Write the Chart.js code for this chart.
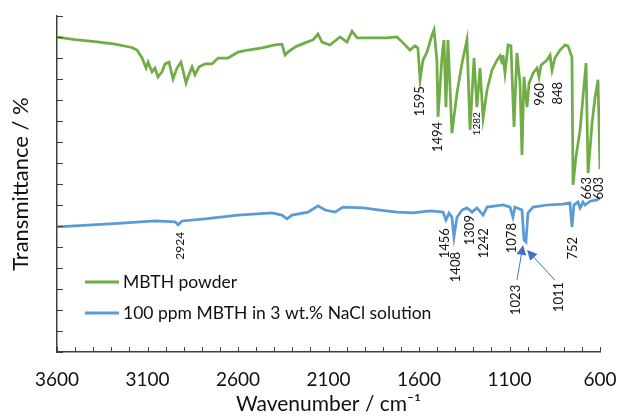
<!DOCTYPE html>
<html>
<head>
<meta charset="utf-8">
<script src="https://cdn.jsdelivr.net/npm/chart.js@4.4.0/dist/chart.umd.min.js"></script>
<style>
  html, body { margin: 0; padding: 0; background: #fff; }
</style>
</head>
<body>
<canvas id="chart" width="619" height="419"></canvas>
<script>
// MBTH powder spectrum (wavenumber, transmittance in arbitrary units)
const powderWn = [3600, 3500, 3390, 3280, 3186, 3158, 3130, 3108, 3097, 3075, 3059, 3042, 3020, 3003, 2981, 2959, 2937, 2915, 2887, 2876, 2854, 2838, 2815, 2782, 2744, 2710, 2655, 2600, 2545, 2467, 2396, 2357, 2340, 2324, 2285, 2230, 2186, 2158, 2136, 2092, 2036, 1998, 1970, 1942, 1887, 1832, 1777, 1722, 1688, 1650, 1622, 1606, 1594, 1578, 1556, 1528, 1517, 1501, 1495, 1473, 1462, 1451, 1440, 1418, 1390, 1362, 1335, 1318, 1296, 1280, 1263, 1246, 1224, 1197, 1169, 1152, 1141, 1136, 1125, 1108, 1092, 1075, 1059, 1042, 1031, 1020, 1003, 992, 970, 948, 937, 926, 893, 876, 865, 849, 821, 793, 777, 755, 749, 733, 710, 694, 677, 666, 644, 627, 611, 600];
const powderT = [75.0, 74.4, 73.9, 73.3, 72.5, 71.9, 70.0, 67.6, 69.0, 66.7, 67.6, 65.5, 66.7, 68.6, 69.0, 65.0, 67.6, 69.0, 64.0, 65.5, 67.9, 66.0, 67.9, 68.6, 68.6, 70.0, 70.0, 71.4, 71.9, 72.4, 73.1, 73.3, 70.7, 71.4, 72.6, 73.6, 74.3, 75.7, 73.8, 73.1, 75.0, 73.8, 76.4, 74.8, 74.8, 74.8, 74.8, 75.0, 73.6, 71.9, 72.9, 72.4, 64.8, 69.5, 71.4, 75.5, 76.7, 69.5, 56.0, 70.2, 74.3, 58.3, 74.3, 52.1, 61.7, 68.8, 74.3, 52.9, 70.0, 58.3, 67.6, 55.7, 62.4, 67.1, 69.5, 70.5, 68.8, 70.7, 66.4, 73.1, 72.9, 53.6, 71.2, 64.0, 46.9, 65.5, 58.3, 64.0, 66.4, 67.6, 65.5, 68.3, 69.5, 70.7, 67.1, 70.0, 71.9, 73.1, 72.9, 70.2, 39.8, 46.4, 52.9, 60.7, 68.8, 42.6, 54.5, 60.7, 64.8, 43.5];

// 100 ppm MBTH in 3 wt.% NaCl solution
const solutionWn = [3600, 3429, 3241, 3059, 2948, 2931, 2909, 2782, 2600, 2412, 2357, 2329, 2302, 2213, 2158, 2119, 2064, 2020, 1909, 1815, 1722, 1633, 1539, 1467, 1451, 1434, 1418, 1407, 1390, 1362, 1335, 1307, 1280, 1246, 1224, 1136, 1097, 1081, 1070, 1031, 1020, 1009, 998, 970, 893, 804, 766, 755, 744, 722, 710, 694, 683, 655, 617, 600];
const solutionT = [29.8, 30.2, 30.7, 31.2, 31.0, 30.3, 31.2, 31.7, 32.6, 33.1, 32.6, 31.7, 32.6, 33.3, 34.8, 33.8, 33.3, 34.5, 34.3, 33.8, 33.3, 33.1, 33.6, 33.3, 31.4, 33.1, 32.1, 27.4, 32.1, 33.8, 34.3, 33.3, 34.3, 32.6, 34.5, 35.0, 34.5, 32.1, 34.5, 33.8, 26.7, 26.2, 33.1, 34.5, 35.0, 35.2, 35.5, 29.8, 35.0, 35.7, 34.3, 35.7, 35.0, 35.9, 36.2, 36.7];

const seriesNames = ['MBTH powder', '100 ppm MBTH in 3 wt.% NaCl solution'];
const seriesColors = ['#70AD47', '#5B9BD5'];

// x tick labels shown every 500 cm-1, counted from 600
const xLabelStep = 500;

// peak labels: text, wavenumber of label centre, transmittance at top of label, font size
const peakText = ['1595', '1494', '1282', '960', '848', '663', '603', '2924', '1456', '1408', '1309', '1242', '1078', '752', '1023', '1011'];
const peakX = [1594, 1495, 1280, 931, 832, 672, 605, 2920, 1456, 1395, 1318, 1241, 1086, 749, 1064, 826];
const peakY = [63.3, 54.8, 57.1, 64.0, 64.3, 41.7, 41.7, 28.6, 29.5, 23.8, 32.6, 29.5, 30.7, 27.4, 16.0, 16.7];
const peakSize = [13, 13, 10, 13, 13, 13, 13, 12, 13, 13, 13, 13, 13, 13, 13, 13];

// arrows for the 1023 / 1011 doublet: from (wn, T) to (wn, T)
const arrowFrom = [[1059, 17.1], [849, 17.1]];
const arrowTo = [[1025, 25.5], [1003, 24.3]];

const AXIS = '#404040';
const FONT = 'Lato, "Liberation Sans", sans-serif';

const toPoints = (xs, ys) => xs.map((x, i) => ({ x: x, y: ys[i] }));

const inwardTicks = {
  id: 'inwardTicks',
  afterDraw(chart) {
    const ctx = chart.ctx, a = chart.chartArea;
    const xs = chart.scales.x, ys = chart.scales.y;
    ctx.save();
    ctx.strokeStyle = AXIS;
    ctx.lineWidth = 1;
    xs.ticks.forEach(t => {
      const px = Math.round(xs.getPixelForValue(t.value)) + 0.5;
      ctx.beginPath(); ctx.moveTo(px, a.bottom); ctx.lineTo(px, a.bottom - 5); ctx.stroke();
    });
    ys.ticks.forEach(t => {
      const py = Math.round(ys.getPixelForValue(t.value)) + 0.5;
      ctx.beginPath(); ctx.moveTo(a.left, py); ctx.lineTo(a.left + 6, py); ctx.stroke();
    });
    ctx.restore();
  }
};

const peakNotes = {
  id: 'peakNotes',
  afterDraw(chart) {
    const ctx = chart.ctx;
    const xs = chart.scales.x, ys = chart.scales.y;
    ctx.save();
    ctx.fillStyle = '#111';
    peakText.forEach((txt, i) => {
      ctx.save();
      ctx.translate(xs.getPixelForValue(peakX[i]), ys.getPixelForValue(peakY[i]));
      ctx.rotate(-Math.PI / 2);
      ctx.font = peakSize[i] + 'px ' + FONT;
      ctx.textAlign = 'right';
      ctx.textBaseline = 'middle';
      ctx.fillText(txt, 0, 0);
      ctx.restore();
    });
    // arrows
    ctx.strokeStyle = '#4472C4';
    ctx.fillStyle = '#4472C4';
    ctx.lineWidth = 1;
    arrowFrom.forEach((f, i) => {
      const x0 = xs.getPixelForValue(f[0]), y0 = ys.getPixelForValue(f[1]);
      const x1 = xs.getPixelForValue(arrowTo[i][0]), y1 = ys.getPixelForValue(arrowTo[i][1]);
      const ang = Math.atan2(y1 - y0, x1 - x0);
      const len = 10, half = 5;
      const bx = x1 - len * Math.cos(ang), by = y1 - len * Math.sin(ang);
      ctx.beginPath(); ctx.moveTo(x0, y0); ctx.lineTo(bx, by); ctx.stroke();
      ctx.beginPath();
      ctx.moveTo(x1, y1);
      ctx.lineTo(bx + half * Math.sin(ang), by - half * Math.cos(ang));
      ctx.lineTo(bx - half * Math.sin(ang), by + half * Math.cos(ang));
      ctx.closePath(); ctx.fill();
    });
    ctx.restore();
  }
};

const insideLegend = {
  id: 'insideLegend',
  afterDraw(chart) {
    const ctx = chart.ctx, a = chart.chartArea;
    ctx.save();
    ctx.font = '17.5px ' + FONT;
    ctx.textBaseline = 'middle';
    ctx.fillStyle = '#111';
    chart.data.datasets.forEach((ds, i) => {
      const y = a.top + 266 + i * 31;
      ctx.strokeStyle = ds.borderColor;
      ctx.lineWidth = 3;
      ctx.beginPath(); ctx.moveTo(a.left + 28, y); ctx.lineTo(a.left + 62, y); ctx.stroke();
      ctx.fillText(ds.label, a.left + 66, y);
    });
    ctx.restore();
  }
};

const ctx = document.getElementById('chart').getContext('2d');
const chart = new Chart(ctx, {
  type: 'line',
  data: {
    datasets: [
      { label: seriesNames[0], data: toPoints(powderWn, powderT), borderColor: seriesColors[0], borderWidth: 2.75, pointRadius: 0, tension: 0 },
      { label: seriesNames[1], data: toPoints(solutionWn, solutionT), borderColor: seriesColors[1], borderWidth: 2.75, pointRadius: 0, tension: 0 }
    ]
  },
  options: {
    responsive: false,
    animation: false,
    layout: { padding: { left: 0, right: 19, top: 16, bottom: 0 } },
    plugins: { legend: { display: false }, tooltip: { enabled: false } },
    scales: {
      x: {
        type: 'linear',
        reverse: true,
        min: 600,
        max: 3600,
        grid: { display: false, drawTicks: false },
        border: { display: true, color: AXIS, width: 1.5 },
        ticks: {
          stepSize: 100,
          autoSkip: false,
          maxRotation: 0,
          padding: 16,
          color: '#111',
          font: { family: FONT, size: 19 },
          callback: v => ((v - 600) % xLabelStep === 0 ? String(v) : '')
        },
        title: { display: true, text: 'Wavenumber / cm⁻¹', color: '#111', font: { family: FONT, size: 21 }, padding: { top: 0, bottom: 2 } },
        afterFit(scale) { scale.height = 67; scale.paddingLeft = 0; scale.paddingRight = 0; }
      },
      y: {
        min: 0,
        max: 80,
        grid: { display: false, drawTicks: false },
        border: { display: true, color: AXIS, width: 1.5 },
        ticks: { stepSize: 5, display: false },
        title: { display: true, text: 'Transmittance / %', color: '#111', font: { family: FONT, size: 22 }, padding: { top: 8, bottom: 0 } },
        afterFit(scale) { scale.width = 57; }
      }
    }
  },
  plugins: [inwardTicks, peakNotes, insideLegend]
});
</script>
</body>
</html>
